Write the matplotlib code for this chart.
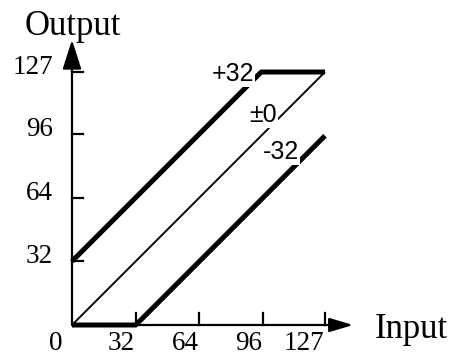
import matplotlib
matplotlib.use("Agg")
import matplotlib.pyplot as plt

# tick values on both axes
tick_values = [32, 64, 96, 127]

# transfer curves (input -> output) for each offset
plus32_x = [0, 95, 127]
plus32_y = [32, 127, 127]
zero_x = [0, 127]
zero_y = [0, 127]
minus32_x = [0, 32, 127]
minus32_y = [0, 0, 95]

# curve labels and where they sit
curve_labels = ["+32", "\u00b10", "-32"]
label_x = [81, 96, 105]
label_y = [126, 105.4, 86.8]

serif = "Liberation Serif"
sans = "Liberation Sans"

fig = plt.figure(figsize=(4.59, 3.56), dpi=100)
ax = fig.add_axes([0, 0, 1, 1])
ax.set_xlim(-36.14, 194.28)
ax.set_ylim(-15.56, 163.15)
ax.axis("off")

# curves
ax.plot(zero_x, zero_y, color="black", lw=1.4, solid_capstyle="butt", zorder=2)
ax.plot(plus32_x, plus32_y, color="black", lw=3.6, solid_capstyle="butt", zorder=2)
ax.plot(minus32_x, minus32_y, color="black", lw=3.6, solid_capstyle="butt", zorder=2)

# axes with arrow heads
ax.annotate("", xy=(0, 143.1), xytext=(0, 0),
            arrowprops=dict(arrowstyle="-|>,head_length=1.8,head_width=0.58",
                            color="black", lw=1.6, shrinkA=0, shrinkB=0,
                            mutation_scale=10), zorder=3)
ax.annotate("", xy=(141.1, 0), xytext=(0, 0),
            arrowprops=dict(arrowstyle="-|>,head_length=1.44,head_width=0.43",
                            color="black", lw=1.6, shrinkA=0, shrinkB=0,
                            mutation_scale=10), zorder=3)

# ticks
for t in tick_values:
    ax.plot([0, 5.6], [t, t], color="black", lw=1.6, zorder=3)
    ax.plot([t, t], [0, 6], color="black", lw=1.6, zorder=3)
    ax.text(-9.5, t - 1, str(t), ha="right", va="baseline",
            fontsize=19.5, family=serif)
    ax.text(t - 0.5, -12.4, str(t), ha="right", va="baseline",
            fontsize=19.5, family=serif)
ax.text(-5, -12.4, "0", ha="right", va="baseline", fontsize=19.5, family=serif)

# axis titles
ax.text(0.5, 145.6, "Output", ha="center", va="baseline", fontsize=25, family=serif)
ax.text(152, -6.5, "Input", ha="left", va="baseline", fontsize=25, family=serif)

# curve labels
for lab, lx, ly in zip(curve_labels, label_x, label_y):
    ax.text(lx, ly, lab, ha="center", va="center", fontsize=18, family=sans,
            bbox=dict(facecolor="white", edgecolor="none", pad=0.5), zorder=4)

fig.savefig("out.png", dpi=100)
